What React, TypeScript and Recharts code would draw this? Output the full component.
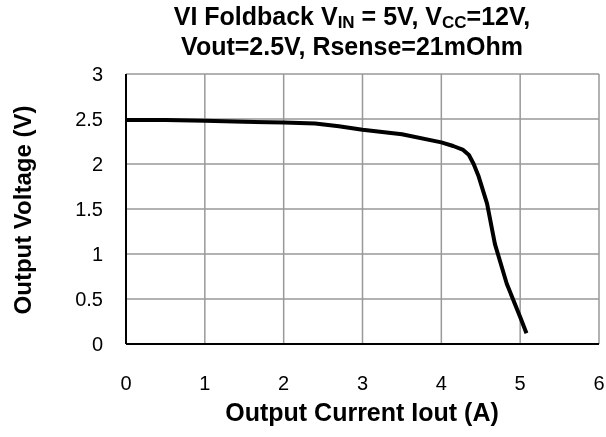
import React from 'react'
import { LineChart, Line, XAxis, YAxis, CartesianGrid, Label } from 'recharts'

const currentA = [0, 0.5, 1, 1.5, 2, 2.4, 2.7, 3, 3.5, 4, 4.15, 4.27, 4.35, 4.41, 4.47, 4.58, 4.68, 4.83, 5.0, 5.08]
const voltageV = [2.49, 2.49, 2.48, 2.47, 2.46, 2.45, 2.42, 2.38, 2.33, 2.24, 2.2, 2.16, 2.1, 2.0, 1.87, 1.56, 1.11, 0.67, 0.3, 0.12]
const xTicks = [0, 1, 2, 3, 4, 5, 6]
const yTicks = [0, 0.5, 1, 1.5, 2, 2.5, 3]

const data = currentA.map((x, i) => ({ x, v: voltageV[i] }))

const FONT = 'Liberation Sans, Arial, sans-serif'
const sub = { fontSize: 17, position: 'relative' as const, top: 3 }

export default function App() {
  return (
    <div style={{ position: 'fixed', left: 0, top: 0, width: 606, height: 437, background: '#fff', fontFamily: FONT }}>
      {/* title */}
      <div style={{ position: 'absolute', left: 0, width: 704, top: 3, textAlign: 'center', fontWeight: 'bold', fontSize: 25, color: '#000', lineHeight: '27px' }}>
        <div>
          VI Foldback V<span style={sub}>IN</span> = 5V, V<span style={sub}>CC</span>=12V,
        </div>
        <div>Vout=2.5V, Rsense=21mOhm</div>
      </div>
      <LineChart width={606} height={437} data={data} margin={{ top: 74, right: 7, bottom: 33, left: 6 }}>
        <CartesianGrid stroke="#999" strokeWidth={1.5} />
        <XAxis
          dataKey="x" type="number" domain={[0, 6]} ticks={xTicks}
          axisLine={{ stroke: '#000', strokeWidth: 2 }} tickLine={false} tickMargin={26}
          tick={{ fontSize: 20, fill: '#000', fontFamily: FONT }} height={60}
        >
          <Label
            content={() => (
              <text x={362} y={412} textAnchor="middle" dominantBaseline="central"
                style={{ fontSize: 25, fontWeight: 'bold', fill: '#000', fontFamily: FONT }}>
                Output Current Iout (A)
              </text>
            )}
          />
        </XAxis>
        <YAxis
          type="number" domain={[0, 3]} ticks={yTicks} width={120}
          axisLine={{ stroke: '#000', strokeWidth: 2 }} tickLine={false} tickMargin={17}
          tick={{ fontSize: 20, fill: '#000', fontFamily: FONT }}
        >
          <Label
            content={() => (
              <text x={22} y={210} transform="rotate(-90 22 210)" textAnchor="middle" dominantBaseline="central"
                style={{ fontSize: 24, fontWeight: 'bold', fill: '#000', fontFamily: FONT }}>
                Output Voltage (V)
              </text>
            )}
          />
        </YAxis>
        <Line dataKey="v" type="linear" stroke="#000" strokeWidth={4} strokeLinejoin="round" dot={false} isAnimationActive={false} />
      </LineChart>
    </div>
  )
}
